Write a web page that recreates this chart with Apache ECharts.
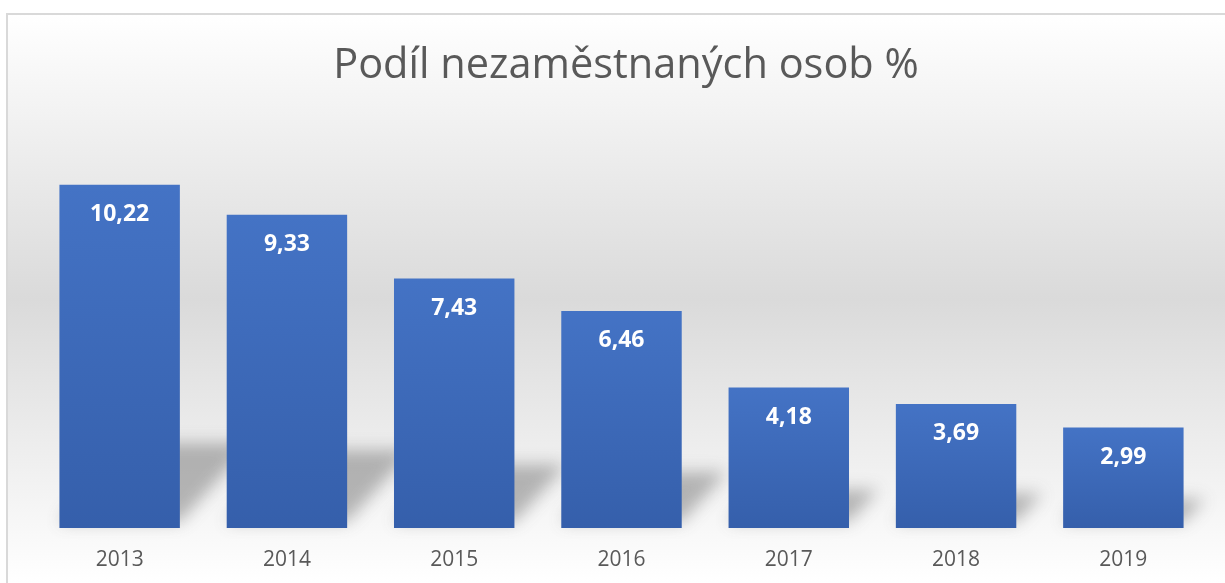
<!DOCTYPE html>
<html>
<head>
<meta charset="utf-8">
<script src="https://cdn.jsdelivr.net/npm/echarts@6/dist/echarts.min.js"></script>
<style>
html, body { margin: 0; padding: 0; background: #fff; overflow: hidden; }
#frame {
    position: absolute; left: 6px; top: 13px;
    border-left: 2px solid #d9d9d9; border-top: 2px solid #d9d9d9;
}
#chart { width: 1217px; height: 568px; }
</style>
</head>
<body>
<div id="frame"><div id="chart"></div></div>
<script>
var years = ['2013', '2014', '2015', '2016', '2017', '2018', '2019'];
var unemployment = [10.22, 9.33, 7.43, 6.46, 4.18, 3.69, 2.99];

var myChart = echarts.init(document.getElementById('chart'));

// soft skewed floor shadow behind every bar: the shape is drawn off to the left
// and only its blurred canvas shadow is moved back in place
var OFF = 3000;
var shadowItem = function (params, api) {
    var base = api.coord([api.value(0), 0]);
    var top = api.coord([api.value(0), api.value(1)]);
    var w = api.size([1, 0])[0] * 0.72;
    var rise = (base[1] - top[1]) * 0.23;
    var dx = rise * 0.9;
    var x0 = base[0] - w / 2 - OFF, x1 = base[0] + w / 2 - OFF, y0 = base[1] - 6;
    return {
        type: 'polygon',
        shape: {
            points: [[x0, y0], [x1, y0], [x1 + dx, y0 - rise], [x0 + dx, y0 - rise]]
        },
        style: {
            fill: '#000',
            shadowBlur: 16,
            shadowOffsetX: OFF,
            shadowColor: 'rgba(90,90,90,0.42)'
        }
    };
};

var option = {
    backgroundColor: new echarts.graphic.LinearGradient(0, 0, 0, 1, [
        {offset: 0, color: '#ffffff'},
        {offset: 0.5, color: '#dadada'},
        {offset: 1, color: '#ffffff'}
    ]),
    title: {
        text: 'Podíl nezaměstnaných osob %',
        left: 613,
        top: 25,
        textAlign: 'center',
        textStyle: {
            fontFamily: 'Open Sans',
            fontWeight: 'normal',
            fontSize: 41.5,
            color: '#595959'
        }
    },
    grid: {
        left: 28,
        right: 18,
        top: 110,
        bottom: 55
    },
    xAxis: {
        type: 'category',
        data: years,
        axisLine: {show: false},
        axisTick: {show: false},
        axisLabel: {
            margin: 22,
            fontFamily: 'Open Sans',
            fontSize: 21,
            color: '#595959'
        }
    },
    yAxis: {
        type: 'value',
        min: 0,
        max: 12,
        show: false,
        splitLine: {show: false}
    },
    series: [
        {
            type: 'custom',
            z: 1,
            silent: true,
            renderItem: shadowItem,
            data: unemployment.map(function (v, i) { return [i, v]; })
        },
        {
            type: 'bar',
            z: 2,
            data: unemployment,
            barWidth: '72%',
            itemStyle: {
                color: new echarts.graphic.LinearGradient(0, 0, 0, 1, [
                    {offset: 0, color: '#4473c5'},
                    {offset: 1, color: '#355fab'}
                ])
            },
            label: {
                show: true,
                position: 'insideTop',
                distance: 18,
                fontFamily: 'Open Sans',
                fontWeight: 'bold',
                fontSize: 23,
                color: '#ffffff',
                formatter: function (p) {
                    return p.value.toFixed(2).replace('.', ',');
                }
            }
        }
    ]
};
myChart.setOption(option);
</script>
</body>
</html>
